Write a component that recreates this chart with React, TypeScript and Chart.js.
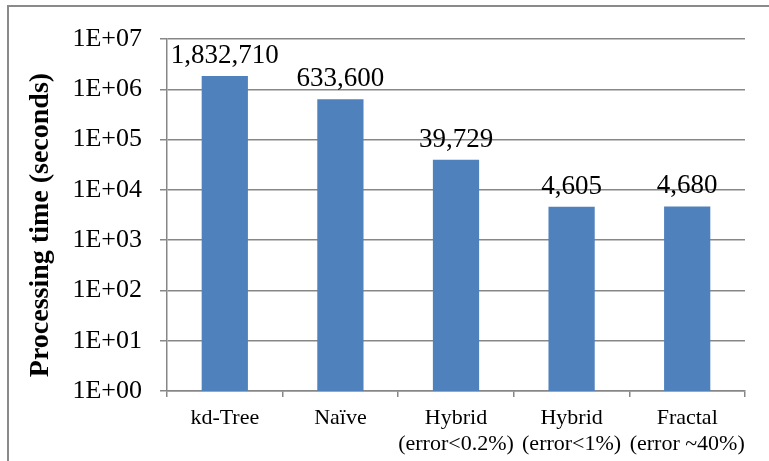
import React, { useEffect, useRef } from "react";
import { Chart, registerables } from "chart.js";

Chart.register(...registerables);

// ---- data ----
const categories: string[][] = [
  ["kd-Tree"],
  ["Naïve"],
  ["Hybrid", "(error<0.2%)"],
  ["Hybrid", "(error<1%)"],
  ["Fractal", "(error ~40%)"],
];
const processingTimes: number[] = [1832710, 633600, 39729, 4605, 4680];
const yTickExponents: number[] = [0, 1, 2, 3, 4, 5, 6, 7];
const yAxisTitle = "Processing time (seconds)";

const FONT = "'Liberation Serif', 'Times New Roman', serif";
const GRID = "#878787";
const BAR = "#4F81BD";

const valueLabelPlugin = {
  id: "valueLabels",
  afterDatasetsDraw(chart: any) {
    const ctx = chart.ctx;
    const meta = chart.getDatasetMeta(0);
    ctx.save();
    ctx.font = `27px ${FONT}`;
    ctx.fillStyle = "#000";
    ctx.textAlign = "center";
    ctx.textBaseline = "alphabetic";
    meta.data.forEach((el: any, i: number) => {
      const v = chart.data.datasets[0].data[i] as number;
      ctx.fillText(v.toLocaleString("en-US"), el.x, el.y - 13);
    });
    ctx.restore();
  },
};

const yTitlePlugin = {
  id: "yTitle",
  afterDraw(chart: any) {
    const ctx = chart.ctx;
    const area = chart.chartArea;
    ctx.save();
    ctx.font = `bold 28px ${FONT}`;
    ctx.fillStyle = "#000";
    ctx.textAlign = "center";
    ctx.textBaseline = "middle";
    ctx.translate(41, (area.top + area.bottom) / 2 + 10);
    ctx.rotate(-Math.PI / 2);
    ctx.fillText(yAxisTitle, 0, 0);
    ctx.restore();
  },
};

export default function App() {
  const ref = useRef<HTMLCanvasElement | null>(null);

  useEffect(() => {
    if (!ref.current) return;
    const chart = new Chart(ref.current, {
      type: "bar",
      data: {
        labels: categories,
        datasets: [
          {
            data: processingTimes,
            backgroundColor: BAR,
            borderWidth: 0,
            barPercentage: 0.4,
            categoryPercentage: 1,
          },
        ],
      },
      options: {
        animation: false,
        responsive: false,
        devicePixelRatio: 1,
        layout: { padding: { top: 39, right: 24, left: 0, bottom: 0 } },
        plugins: {
          legend: { display: false },
          tooltip: { enabled: false },
          title: { display: false },
        },
        scales: {
          x: {
            grid: {
              drawOnChartArea: false,
              drawTicks: true,
              tickLength: 6,
              color: GRID,
              lineWidth: 1.5,
              offset: true,
            },
            border: { display: true, color: GRID, width: 1.5 },
            ticks: {
              color: "#000",
              font: { family: FONT, size: 22, lineHeight: 1.15 },
              padding: 9,
              maxRotation: 0,
              minRotation: 0,
              autoSkip: false,
            },
            afterFit(scale: any) {
              scale.height = 70;
            },
          },
          y: {
            type: "logarithmic",
            min: 1,
            max: 1e7,
            afterBuildTicks(scale: any) {
              scale.ticks = yTickExponents.map((e) => ({ value: Math.pow(10, e) }));
            },
            afterFit(scale: any) {
              scale.width = 167;
            },
            grid: {
              color: GRID,
              lineWidth: 1.5,
              tickLength: 7,
              drawTicks: true,
            },
            border: { display: true, color: GRID, width: 1.5 },
            ticks: {
              color: "#000",
              font: { family: FONT, size: 26 },
              padding: 18,
              autoSkip: false,
              callback: (v: any) => {
                const e = Math.round(Math.log10(Number(v)));
                return "1E+" + String(e).padStart(2, "0");
              },
            },
          },
        },
      },
      plugins: [valueLabelPlugin, yTitlePlugin],
    });
    return () => chart.destroy();
  }, []);

  return (
    <div
      style={{
        position: "fixed",
        left: 0,
        top: 0,
        width: 769,
        height: 461,
        background: "#fff",
        overflow: "hidden",
      }}
    >
      <div
        style={{
          position: "absolute",
          left: 7,
          top: 5,
          right: -10,
          bottom: -10,
          borderLeft: "2px solid #8a8a8a",
          borderTop: "2px solid #8a8a8a",
        }}
      />
      <canvas
        ref={ref}
        width={769}
        height={461}
        style={{ position: "absolute", left: 0, top: 0, width: 769, height: 461 }}
      />
    </div>
  );
}
